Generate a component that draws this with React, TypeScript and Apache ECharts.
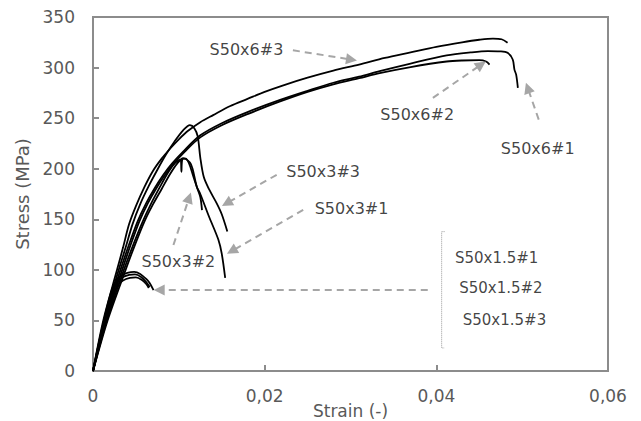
import React, { useEffect, useRef } from "react";
import * as echarts from "echarts";

// Strain (x 1e-3) / stress (MPa) readings for each specimen
const s6_3_strain = [0, 1.2, 2.8, 3.5, 4.2, 5, 6, 7, 8, 9, 10, 11, 12.5, 14, 16, 18, 20, 22, 25, 28, 31, 34, 37, 40, 43, 45, 46.6, 47.6, 48.3];
const s6_3_stress = [0, 50, 100, 122, 145, 163, 182, 198, 210, 220, 229, 237, 246, 253, 262, 269, 276, 282, 290, 297, 303, 309.5, 315, 320.5, 325, 327.5, 328.7, 328, 324.5];

const s6_1_strain = [0, 1.4, 3.2, 4.2, 5.2, 6.2, 7.2, 8.2, 9.2, 10.5, 12.5, 15, 18, 21.8, 25, 28, 31, 33.4, 37, 41.2, 44, 46, 47.4, 48.3, 48.9, 49.1, 49.3, 49.5];
const s6_1_stress = [0, 50, 100, 125, 148, 166, 181, 194, 205, 217, 233, 245, 256, 268, 277, 285, 291, 296.5, 304, 312, 315, 316.3, 316, 314.6, 308, 298, 293, 280];

const s6_2_strain = [0, 1.5, 3.4, 4.4, 5.4, 6.4, 7.4, 8.4, 9.4, 10.7, 12.5, 15, 18, 21.8, 25, 28, 31, 33.4, 37, 41.2, 43, 45, 45.8, 46.2];
const s6_2_stress = [0, 50, 100, 125, 148, 166, 181, 194, 205, 217, 231, 243, 254, 266.5, 276, 283.5, 289.5, 294.5, 300.5, 306, 307, 307.3, 306, 303];

const s3_3_strain = [0, 1.3, 3.0, 3.8, 4.6, 5.5, 6.5, 7.5, 8.5, 9.5, 10.5, 11.3, 11.8, 12.2, 12.5, 12.9, 13.5, 14.4, 15, 15.65];
const s3_3_stress = [0, 50, 100, 122, 145, 165, 183, 199, 214, 227, 238, 243, 240, 232, 211, 192, 180, 166, 155, 138];

const s3_1_strain = [0, 1.7, 3.8, 4.9, 6.0, 7.0, 8.0, 9.0, 9.8, 10.5, 11.3, 11.6, 12.1, 12.5, 13.5, 14.6, 15, 15.4];
const s3_1_stress = [0, 50, 100, 125, 148, 165, 180, 195, 205, 210.5, 206, 200, 182, 175, 153, 130, 116, 92];

const s3_2_strain = [0, 1.6, 3.6, 4.7, 5.8, 6.8, 7.8, 8.8, 9.6, 10.2, 10.3, 10.4, 10.8, 11.2, 11.7, 12.1, 12.5, 12.7];
const s3_2_stress = [0, 50, 100, 125, 148, 166, 182, 197, 206, 209, 197, 209, 210, 205, 192, 182, 172, 159];

const s15_1_strain = [0, 1.0, 2.0, 2.6, 3.2, 4, 4.8, 5.5, 6.2, 6.6, 7.05];
const s15_1_stress = [0, 40, 75, 88, 94, 97, 98, 96, 91, 87, 80];
const s15_2_strain = [0, 1.1, 2.1, 2.7, 3.3, 4.2, 4.9, 5.6, 6.2, 6.6];
const s15_2_stress = [0, 40, 74, 86, 92, 95, 95.5, 93, 88, 83];
const s15_3_strain = [0, 1.2, 2.3, 2.9, 3.5, 4.3, 5, 5.7, 6.2, 6.5];
const s15_3_stress = [0, 40, 74, 85, 89.5, 92, 92.5, 90, 86, 82];

const xTicks = [0, 0.02, 0.04, 0.06];
const yMax = 350;

// Annotation labels and positions (data coordinates: strain, stress)
const labelNames = ["S50x6#3", "S50x6#2", "S50x6#1", "S50x3#3", "S50x3#1", "S50x3#2", "S50x1.5#1", "S50x1.5#2", "S50x1.5#3"];
const labelX = [0.01788, 0.03777, 0.05181, 0.02681, 0.03012, 0.00995, 0.04703, 0.04752, 0.04794];
const labelY = [317.8, 253.4, 220.4, 197.2, 161, 108, 111.4, 81.7, 50.9];
const labelSize = [16, 16, 16, 16, 16, 16, 15, 15, 15];

// Arrows: from (x1,y1) to (x2,y2)
const arrowX1 = [0.02329, 0.0396, 0.05193, 0.0214, 0.02449, 0.00937, 0.0390];
const arrowY1 = [317.1, 270, 248.5, 194, 159.3, 124.6, 80];
const arrowX2 = [0.03012, 0.04523, 0.05065, 0.01558, 0.01616, 0.0112, 0.00771];
const arrowY2 = [307.9, 303, 279.9, 165.9, 118.6, 171.2, 80];

// Bracket for the S50x1.5 group
const bracketX = [0.04096, 0.04062, 0.04062, 0.04096];
const bracketY = [137.8, 137.8, 22.8, 22.8];

const curves = [
  [s6_3_strain, s6_3_stress],
  [s6_1_strain, s6_1_stress],
  [s6_2_strain, s6_2_stress],
  [s3_3_strain, s3_3_stress],
  [s3_1_strain, s3_1_stress],
  [s3_2_strain, s3_2_stress],
  [s15_1_strain, s15_1_stress],
  [s15_2_strain, s15_2_stress],
  [s15_3_strain, s15_3_stress],
];

const FONT = "DejaVu Sans";

export default function App() {
  const ref = useRef<HTMLDivElement>(null);
  useEffect(() => {
    if (!ref.current) return;
    const chart = echarts.init(ref.current, undefined, { renderer: "svg" });
    const curveSeries = curves.map(([xs, ys]) => ({
      type: "line",
      data: xs.map((x, i) => [x / 1000, ys[i]]),
      showSymbol: false,
      smooth: 0.3,
      lineStyle: { color: "#000", width: 1.8 },
      silent: true,
      z: 3,
    }));
    const option: any = {
      animation: false,
      grid: {
        left: 93,
        right: 33,
        top: 17,
        bottom: 50,
        show: true,
        borderColor: "#8c8c8c",
        borderWidth: 2,
        outerBoundsMode: "none",
        containLabel: false,
      },
      xAxis: {
        type: "value",
        min: xTicks[0],
        max: xTicks[xTicks.length - 1],
        interval: 0.02,
        name: "Strain (-)",
        nameLocation: "middle",
        nameGap: 31,
        nameMoveOverlap: false,
        nameTextStyle: { fontFamily: FONT, fontSize: 17, color: "#595959", lineHeight: 17 },
        axisLine: { show: true, lineStyle: { color: "#8c8c8c", width: 2 } },
        axisTick: { show: true, inside: true, length: 6, lineStyle: { color: "#8c8c8c", width: 2 } },
        axisLabel: {
          fontFamily: FONT,
          fontSize: 17,
          color: "#595959",
          margin: 16,
          formatter: (v: number) => (v === 0 ? "0" : v.toFixed(2).replace(".", ",")),
        },
        splitLine: { show: false },
      },
      yAxis: {
        type: "value",
        min: 0,
        max: yMax,
        interval: 50,
        name: "Stress (MPa)",
        nameLocation: "middle",
        nameGap: 62,
        nameMoveOverlap: false,
        nameTextStyle: { fontFamily: FONT, fontSize: 18, color: "#595959" },
        axisLine: { show: true, lineStyle: { color: "#8c8c8c", width: 2 } },
        axisTick: { show: true, inside: true, length: 6, lineStyle: { color: "#8c8c8c", width: 2 } },
        axisLabel: { fontFamily: FONT, fontSize: 17, color: "#595959", margin: 18 },
        splitLine: { show: false },
      },
      series: [
        ...curveSeries,
        {
          type: "line",
          data: bracketX.map((x, i) => [x, bracketY[i]]),
          showSymbol: false,
          lineStyle: { color: "#9a9a9a", width: 1, type: "dotted" },
          silent: true,
          z: 2,
          markLine: {
            silent: true,
            symbol: ["none", "triangle"],
            symbolSize: [10, 10],
            label: { show: false },
            lineStyle: { color: "#a6a6a6", width: 2, type: [7, 5] },
            data: arrowX1.map((x, i) => [
              { coord: [x, arrowY1[i]], symbol: "none" },
              { coord: [arrowX2[i], arrowY2[i]], symbol: "triangle", symbolSize: 11 },
            ]),
          },
        },
        {
          type: "scatter",
          symbolSize: 1,
          itemStyle: { color: "rgba(0,0,0,0)" },
          silent: true,
          z: 5,
          data: labelNames.map((n, i) => ({
            name: n,
            value: [labelX[i], labelY[i]],
            label: { fontSize: labelSize[i] },
          })),
          label: {
            show: true,
            position: "inside",
            formatter: "{b}",
            fontFamily: FONT,
            fontSize: 16,
            color: "#111",
          },
        },
      ],
    };
    chart.setOption(option);
    return () => chart.dispose();
  }, []);
  return (
    <div
      ref={ref}
      style={{ position: "fixed", left: 0, top: 0, width: 641, height: 421, background: "#fff" }}
    />
  );
}
